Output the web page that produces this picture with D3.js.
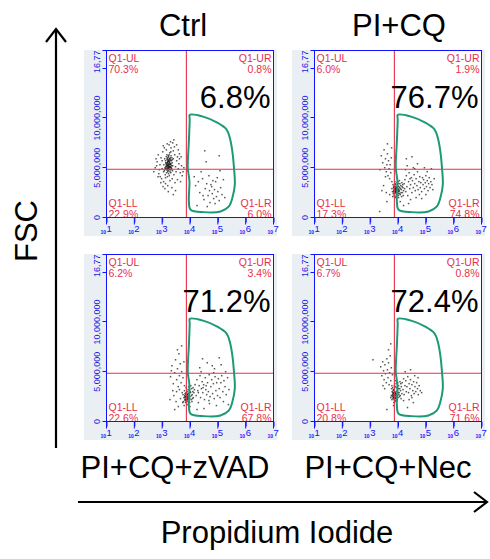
<!DOCTYPE html>
<html>
<head>
<meta charset="utf-8">
<script src="https://cdn.jsdelivr.net/npm/d3@7"></script>
<style>
  body { margin: 0; background: #fff; }
  svg text { font-family: "Liberation Sans", Arial, sans-serif; }
</style>
</head>
<body>
<div id="chart"></div>
<script>
// panel titles, top row then bottom row
const panelNames = ["Ctrl", "PI+CQ", "PI+CQ+zVAD", "PI+CQ+Nec"];
const gatePercent = ["6.8%", "76.7%", "71.2%", "72.4%"];

// quadrant stats per panel
const quadUL = ["70.3%", "6.0%", "6.2%", "6.7%"];
const quadUR = ["0.8%", "1.9%", "3.4%", "0.8%"];
const quadLL = ["22.9%", "17.3%", "22.6%", "20.8%"];
const quadLR = ["6.0%", "74.8%", "67.8%", "71.6%"];

// quadrant cut: log10(PI), FSC
const quadCutX = 3.87;
const quadCutY = 4850000;

// axes
const xExponents = [1, 2, 3, 4, 5, 6, 7];
const yTicks = [0, 5000000, 10000000, 15000000, 16777216];
const yTickLabels = ["0", "5,000,000", "10,000,000", "", "16,777,216"];

// gate outline: [log10 PI, FSC millions]
const gate = [
  [3.99, 10.31], [4.50, 10.11], [4.98, 9.53], [5.31, 8.86], [5.43, 8.01],
  [5.52, 6.67], [5.58, 4.98], [5.61, 3.30], [5.52, 1.95], [5.40, 1.11],
  [5.10, 0.61], [4.50, 0.54], [4.02, 0.78], [3.96, 1.62], [3.98, 3.64],
  [3.92, 4.98], [3.96, 7.68], [3.99, 9.87]
];

// events: [log10 PI, FSC millions]
const dotsCtrl = [
  [3.10,5.0],[3.14,5.4],[3.18,4.8],[3.22,5.6],[3.26,5.1],[3.30,5.8],[3.34,4.9],[3.20,6.0],[3.16,4.5],[3.28,4.6],
  [3.24,5.3],[3.12,5.7],[3.36,5.5],[3.32,6.2],[3.08,4.7],[3.19,5.2],[3.27,5.9],[3.23,4.4],[3.15,6.1],[3.38,5.2],
  [3.21,4.9],[3.29,5.4],[3.17,5.5],[3.11,4.3],[3.25,6.3],[3.33,5.0],[3.13,5.1],[3.31,4.5],[3.06,5.3],[3.40,5.9],
  [3.18,5.8],[3.26,4.2],[3.22,5.0],[3.35,6.0],[3.09,5.9],[3.28,5.1],[3.20,4.6],[3.14,4.9],[3.24,5.7],[3.30,5.3],
  [3.16,5.3],[3.37,4.7],[3.12,4.0],[3.27,6.5],[3.19,4.1],[3.33,5.7],[3.05,4.6],[3.23,6.1],[3.31,6.6],[3.21,5.4],
  [3.17,5.1],[3.19,5.5],[3.21,5.2],[3.23,5.8],[3.25,5.0],[3.27,5.5],[3.29,5.0],[3.22,4.7],[3.18,5.9],[3.26,5.6],
  [3.20,5.3],[3.24,4.9],[3.28,5.7],[3.16,4.8],[3.30,5.1],[3.21,5.7],[3.25,5.4],[3.19,4.9],[3.23,5.2],[3.27,4.8],
  [3.15,5.2],[3.29,6.0],[3.32,5.4],[3.18,5.0],[3.22,6.2],[3.26,5.9],[3.20,5.6],[3.24,5.1],[3.28,5.3],[3.13,5.5],
  [3.34,5.2],[3.17,6.3],[3.31,4.8],[3.11,4.9],[3.36,5.8],
  [2.75,5.0],[2.82,5.6],[2.88,4.4],[2.92,5.3],[2.96,6.0],[2.98,3.9],[3.02,6.6],[3.00,4.9],[2.90,4.8],[3.05,3.6],
  [3.08,7.0],[3.12,3.4],[3.15,6.8],[3.20,3.2],[3.25,7.3],[3.28,3.7],[3.32,7.0],[3.36,3.9],[3.40,6.7],[3.42,4.3],
  [3.45,6.3],[3.48,5.1],[3.50,4.6],[3.52,5.7],[3.55,6.1],[3.58,4.9],[3.60,5.4],[3.65,4.5],[3.70,5.2],[3.78,5.0],
  [3.62,6.4],[3.44,7.1],[3.38,7.5],[3.30,7.6],[3.18,7.4],[3.10,2.9],[3.22,2.6],[3.35,3.0],[3.46,3.5],[3.55,3.8],
  [3.03,3.1],[2.95,3.5],[2.85,4.1],[3.66,3.6],[3.72,4.2],[3.48,2.7],[3.58,6.8],[3.00,5.7],[2.80,5.2],[3.40,2.3],
  [2.70,4.6],[2.78,5.9],[2.86,6.3],[2.93,4.1],[3.04,7.2],[3.42,7.8],[3.52,7.3],[3.62,5.9],[3.68,6.1],[3.75,4.6],
  [4.20,3.2],[4.35,2.5],[4.45,3.9],[4.50,1.8],[4.55,2.9],[4.60,3.4],[4.65,2.2],[4.70,2.7],[4.72,1.5],[4.78,3.1],
  [4.80,2.4],[4.85,1.9],[4.88,2.8],[4.92,3.6],[4.95,2.1],[5.00,2.6],[5.05,1.7],[5.10,3.0],[5.15,2.3],[4.40,4.6],
  [4.58,5.6],[5.05,6.2],[4.25,1.2],[4.68,4.2],[4.98,4.0],[5.20,3.8],[4.30,3.6],[4.62,1.1],[4.82,3.7],[5.25,2.0],
  [4.47,2.2],[4.75,3.3],[4.90,1.4],[4.15,4.1],[5.08,4.7],[4.53,6.7]
];

const dotsCQ = [
  [3.80,2.6],[3.84,3.0],[3.88,2.4],[3.90,2.9],[3.92,3.3],[3.86,2.2],[3.94,2.7],[3.96,3.1],[3.98,2.5],[4.00,2.9],
  [4.02,3.4],[4.04,2.6],[4.06,3.0],[4.08,2.3],[4.10,3.2],[4.12,2.8],[4.14,3.5],[4.16,2.5],[4.18,3.0],[4.20,2.7],
  [3.82,3.3],[3.85,2.7],[3.89,3.6],[3.93,2.1],[3.97,3.5],[4.01,2.2],[4.05,3.7],[4.09,2.9],[4.13,2.1],[4.17,3.3],
  [3.78,2.9],[3.87,3.2],[3.91,2.6],[3.95,2.3],[3.99,3.2],[4.03,2.8],[4.07,3.4],[4.11,2.5],[4.15,3.1],[4.22,3.4],
  [3.83,2.4],[3.90,2.0],[3.94,3.0],[4.00,3.6],[4.06,2.4],[4.24,2.9],[3.81,2.1],[3.96,2.8],[4.02,2.0],[4.19,2.2],
  [3.86,2.8],[3.88,3.0],[3.90,2.5],[3.92,2.8],[3.94,2.5],[3.96,2.9],[3.89,2.7],[3.91,3.1],[3.93,2.6],[3.95,2.7],
  [3.98,2.8],[4.00,2.6],[3.87,2.5],[3.85,3.1],[3.97,2.4],[4.03,3.1],[3.92,2.9],[3.88,2.8],[3.99,2.7],[4.01,2.4],
  [3.84,2.6],[3.90,3.4],[3.94,2.2],[4.04,2.7],[3.86,3.0],
  [4.25,3.8],[4.28,2.6],[4.30,4.2],[4.32,3.1],[4.35,2.2],[4.38,3.6],[4.40,4.5],[4.42,2.9],[4.45,3.3],[4.48,4.0],
  [4.50,2.5],[4.52,3.7],[4.55,3.0],[4.58,4.3],[4.60,3.4],[4.62,2.7],[4.65,3.9],[4.68,3.2],[4.70,4.6],[4.72,2.8],
  [4.75,3.6],[4.78,4.1],[4.80,3.0],[4.82,3.5],[4.85,2.6],[4.88,4.0],[4.90,3.3],[4.92,3.8],[4.95,2.9],[4.98,3.5],
  [5.00,4.2],[5.02,3.1],[5.05,3.7],[5.08,2.7],[5.10,3.4],[5.12,4.0],[5.15,3.0],[5.18,3.6],[5.22,3.3],[5.25,2.8],
  [4.33,5.2],[4.55,5.0],[4.70,5.4],[4.95,5.0],[5.20,4.9],[4.45,1.8],[4.65,2.0],[4.85,1.9],[5.00,2.3],[4.38,1.4],
  [4.27,4.8],[4.60,4.9],[5.30,3.9],[4.43,3.9],[4.77,2.3],[5.05,4.6],[4.50,6.1],[4.30,5.9],[4.20,1.2],[4.08,1.6],
  [3.40,6.2],[3.45,5.5],[3.50,6.8],[3.52,5.0],[3.55,5.9],[3.58,4.6],[3.60,5.3],[3.62,6.4],[3.64,4.2],[3.66,5.7],
  [3.68,4.9],[3.70,3.9],[3.72,5.3],[3.74,4.5],[3.76,6.0],[3.78,3.6],[3.55,4.1],[3.48,3.2],[3.35,4.8],[3.42,2.7],
  [3.60,1.6],[3.70,2.3],[3.62,7.4],[3.77,7.0],[3.58,2.5],[3.34,0.6]
];

const dotsZVAD = [
  [3.78,2.4],[3.82,2.8],[3.85,2.2],[3.88,2.6],[3.90,3.0],[3.84,1.9],[3.92,2.3],[3.94,2.8],[3.96,2.1],[3.98,3.2],
  [4.00,2.5],[4.02,2.9],[4.04,2.2],[4.06,3.3],[4.08,2.7],[4.10,3.0],[4.12,2.4],[3.80,3.1],[3.86,3.4],[3.91,1.7],
  [3.95,3.5],[3.99,1.9],[4.03,3.6],[4.07,2.0],[4.11,3.4],[3.76,2.0],[3.83,2.5],[3.89,2.0],[3.93,3.2],[3.97,2.6],
  [4.01,3.0],[4.05,2.6],[4.09,2.3],[4.14,2.9],[3.87,2.9],[3.81,2.2],[3.75,2.7],[3.79,1.6],[4.16,3.2],[4.00,1.5],
  [3.84,2.5],[3.86,2.3],[3.88,2.8],[3.90,2.4],[3.92,2.7],[3.85,2.7],[3.87,2.1],[3.89,2.5],[3.91,2.2],[3.93,2.5],
  [3.82,2.4],[3.95,2.4],[3.86,2.9],[3.88,2.2],[3.97,2.9],[3.83,2.1],[3.90,2.7],[3.94,2.0],[3.81,2.6],[3.99,2.3],
  [4.18,3.7],[4.22,2.6],[4.25,4.2],[4.28,3.1],[4.30,1.9],[4.33,3.6],[4.36,4.6],[4.38,2.4],[4.41,3.3],[4.44,4.0],
  [4.46,2.9],[4.49,3.7],[4.52,2.2],[4.55,4.4],[4.57,3.2],[4.60,2.7],[4.63,3.9],[4.66,3.0],[4.69,4.7],[4.72,2.5],
  [4.75,3.5],[4.78,4.2],[4.81,2.8],[4.84,3.8],[4.87,2.3],[4.90,4.5],[4.93,3.1],[4.96,3.9],[4.99,2.6],[5.02,4.3],
  [5.05,3.3],[5.08,2.4],[5.11,3.9],[5.14,4.6],[5.18,3.0],[5.22,4.1],[5.26,3.5],[5.30,2.7],[5.35,4.4],[5.40,3.2],
  [4.35,5.4],[4.62,5.9],[4.88,5.3],[5.12,5.7],[5.28,5.0],[4.45,6.3],[5.05,6.4],[4.50,1.3],[4.70,1.8],[4.95,1.6],
  [5.20,2.0],[4.25,1.2],[4.40,5.0],[4.80,5.6],[5.38,1.7],[4.58,3.6],[4.68,2.1],[4.85,4.9],[4.30,2.9],[4.47,3.4],
  [3.30,4.5],[3.35,5.6],[3.40,3.8],[3.45,4.9],[3.48,6.2],[3.52,4.2],[3.55,5.3],[3.58,3.5],[3.60,6.8],[3.62,4.6],
  [3.65,5.8],[3.68,3.9],[3.70,5.0],[3.72,2.9],[3.75,4.4],[3.78,6.0],[3.80,3.6],[3.42,2.6],[3.50,2.0],[3.58,1.5],
  [3.66,2.3],[3.38,3.1],[3.28,2.2],[3.55,7.2],[3.70,7.6],[3.45,1.2],[3.62,3.2],[3.74,1.9],[3.33,5.1],[3.52,3.0]
];

const dotsNec = [
  [3.76,2.6],[3.79,3.0],[3.82,2.3],[3.84,2.8],[3.86,3.2],[3.88,2.5],[3.90,2.9],[3.92,2.1],[3.94,3.4],[3.96,2.7],
  [3.98,3.1],[4.00,2.4],[4.02,3.6],[4.04,2.9],[4.06,3.3],[4.08,2.6],[4.10,3.8],[3.78,2.2],[3.81,3.4],[3.85,1.9],
  [3.87,3.6],[3.91,2.4],[3.93,3.8],[3.97,2.2],[3.99,3.9],[4.03,2.7],[4.07,4.0],[4.09,3.1],[3.80,2.7],[3.83,3.1],
  [3.89,2.0],[3.95,3.0],[4.01,3.3],[4.05,2.5],[4.12,3.5],[3.77,3.3],[3.74,2.4],[3.84,1.6],[3.92,4.1],[4.14,2.8],
  [3.86,2.6],[3.90,3.5],[3.96,2.5],[4.00,2.9],[4.11,2.3],
  [3.82,2.6],[3.84,2.4],[3.85,2.9],[3.87,2.7],[3.88,2.3],[3.89,3.0],[3.83,2.8],[3.86,2.2],[3.90,2.6],[3.92,2.8],
  [3.81,2.9],[3.84,3.2],[3.87,2.5],[3.91,2.3],[3.93,2.7],[3.80,2.5],[3.88,2.8],[3.85,2.4],
  [4.15,3.9],[4.18,3.2],[4.20,4.3],[4.22,2.7],[4.25,3.6],[4.28,4.1],[4.30,3.0],[4.32,3.5],[4.35,4.5],[4.38,2.9],
  [4.40,3.8],[4.43,3.3],[4.45,4.2],[4.48,2.6],[4.50,3.7],[4.53,3.1],[4.56,4.0],[4.58,2.8],[4.61,3.5],[4.64,3.0],
  [4.67,3.9],[4.70,3.3],[4.73,2.7],[4.76,3.6],[4.80,3.1],[4.26,5.0],[4.45,5.2],[4.60,4.6],[4.20,2.1],[4.40,2.2],
  [4.55,1.9],[4.34,1.4],[4.72,4.4],[4.50,2.4],[4.85,2.9],
  [3.38,5.5],[3.42,4.6],[3.45,6.0],[3.48,5.1],[3.50,4.2],[3.53,5.7],[3.55,4.8],[3.58,3.9],[3.60,6.3],[3.62,5.2],
  [3.64,4.4],[3.66,5.9],[3.68,3.7],[3.70,4.9],[3.72,6.6],[3.74,4.1],[3.76,5.4],[3.78,3.6],[3.80,4.7],[3.52,3.3],
  [3.66,7.2],[3.74,7.8],[3.10,6.2],[3.60,1.2],[3.46,3.6]
];

const panelDots = [dotsCtrl, dotsCQ, dotsZVAD, dotsNec];

// layout
const W = 490, H = 559;
const colX = [106, 314];
const rowY = [50, 254];
const pw = 167, ph = 167;

const blue = "#1212ff";
const red = "#e6304d";
const green = "#1b9a76";
const stripGray = "#e9eff2";

const svg = d3.select("#chart").append("svg")
  .attr("width", W)
  .attr("height", H);

const x = d3.scaleLog().domain([10, 1e7]).range([0, pw]);
const y = d3.scaleLinear().domain([0, 16777216]).range([ph, 0]);

const gateLine = d3.line()
  .x(d => x(Math.pow(10, d[0])))
  .y(d => y(d[1] * 1e6))
  .curve(d3.curveCatmullRomClosed.alpha(0.5));

panelNames.forEach((name, i) => {
  const g = svg.append("g")
    .attr("transform", `translate(${colX[i % 2] + 0.5},${rowY[Math.floor(i / 2)] + 0.5})`);

  // gray strip behind the axes
  g.append("rect")
    .attr("x", -22.5).attr("y", -0.5)
    .attr("width", pw + 26).attr("height", ph + 19)
    .attr("fill", stripGray);
  g.append("rect")
    .attr("width", pw).attr("height", ph)
    .attr("fill", "#fff");

  const clipId = "clip" + i;
  g.append("clipPath").attr("id", clipId)
    .append("rect").attr("width", pw).attr("height", ph);

  const plot = g.append("g").attr("clip-path", `url(#${clipId})`);

  // events
  plot.selectAll(".dot")
    .data(panelDots[i])
    .enter().append("rect")
    .attr("class", "dot")
    .attr("x", d => x(Math.pow(10, d[0])) - 0.75)
    .attr("y", d => y(d[1] * 1e6) - 0.75)
    .attr("width", 1.5).attr("height", 1.5)
    .attr("fill", "#111")
    .attr("opacity", 0.7);

  // quadrant lines
  const qx = x(Math.pow(10, quadCutX));
  const qy = y(quadCutY);
  plot.append("line")
    .attr("x1", qx).attr("x2", qx)
    .attr("y1", 0).attr("y2", ph)
    .attr("stroke", red).attr("stroke-width", 1.1);
  plot.append("line")
    .attr("x1", 0).attr("x2", pw)
    .attr("y1", qy).attr("y2", qy)
    .attr("stroke", red).attr("stroke-width", 1.1);

  // gate
  plot.append("path")
    .datum(gate)
    .attr("d", gateLine)
    .attr("fill", "none")
    .attr("stroke", green)
    .attr("stroke-width", 2);

  // quadrant labels
  const qs = [
    { t: "Q1-UL", v: quadUL[i], x: 2, anchor: "start", y1: 11, y2: 22 },
    { t: "Q1-UR", v: quadUR[i], x: pw - 2, anchor: "end", y1: 11, y2: 22 },
    { t: "Q1-LL", v: quadLL[i], x: 2, anchor: "start", y1: ph - 11, y2: ph },
    { t: "Q1-LR", v: quadLR[i], x: pw - 2, anchor: "end", y1: ph - 11, y2: ph }
  ];
  qs.forEach(q => {
    g.append("text").attr("x", q.x).attr("y", q.y1)
      .attr("text-anchor", q.anchor).attr("font-size", 10.5)
      .attr("fill", red).text(q.t);
    g.append("text").attr("x", q.x).attr("y", q.y2)
      .attr("text-anchor", q.anchor).attr("font-size", 10.5)
      .attr("fill", red).text(q.v);
  });

  // gate percentage
  g.append("text")
    .attr("x", pw - 3).attr("y", 57)
    .attr("text-anchor", "end")
    .attr("font-size", 31)
    .attr("fill", "#000")
    .text(gatePercent[i]);

  // frame
  g.append("rect")
    .attr("width", pw).attr("height", ph)
    .attr("fill", "none").attr("stroke", blue).attr("stroke-width", 1);

  // x axis: minor + major ticks
  const xAxisG = g.append("g").attr("transform", `translate(0,${ph})`);
  xAxisG.call(d3.axisBottom(x).ticks(6).tickSize(5).tickFormat(""));
  xAxisG.select(".domain").remove();
  xAxisG.selectAll("line").attr("stroke", blue);
  xExponents.forEach(e => {
    const px = x(Math.pow(10, e));
    xAxisG.append("line").attr("x1", px).attr("x2", px)
      .attr("y1", 0).attr("y2", 7).attr("stroke", blue);
    xAxisG.append("text").attr("x", px - 0.5).attr("y", 16)
      .attr("text-anchor", "end").attr("font-size", 5)
      .attr("font-weight", "bold").attr("fill", blue).text("10");
    xAxisG.append("text").attr("x", px).attr("y", 14)
      .attr("text-anchor", "start").attr("font-size", 9.5)
      .attr("fill", blue).text(e);
  });

  // y axis
  const yClip = "yclip" + i;
  g.append("clipPath").attr("id", yClip)
    .append("rect").attr("x", -22.5).attr("y", -0.5).attr("width", 22).attr("height", ph + 19);
  const yAxisG = g.append("g").attr("clip-path", `url(#${yClip})`);
  yAxisG.selectAll(".ytick")
    .data(yTicks)
    .enter().append("line")
    .attr("x1", -4).attr("x2", 0)
    .attr("y1", d => Math.round(y(d))).attr("y2", d => Math.round(y(d)))
    .attr("stroke", blue);
  yAxisG.selectAll(".ylab")
    .data(yTicks)
    .enter().append("text")
    .attr("transform", d => `translate(-7,${y(d)}) rotate(-90)`)
    .attr("text-anchor", "middle")
    .attr("font-size", 9)
    .attr("fill", "#1c1ce6")
    .text((d, k) => yTickLabels[k]);
});

// column titles
svg.selectAll(".coltitle")
  .data(panelNames.slice(0, 2))
  .enter().append("text")
  .attr("x", (d, k) => [183, 399][k])
  .attr("y", 36)
  .attr("text-anchor", "middle")
  .attr("font-size", 31)
  .text(d => d);

svg.selectAll(".bottitle")
  .data(panelNames.slice(2))
  .enter().append("text")
  .attr("x", (d, k) => [175, 388][k])
  .attr("y", 478)
  .attr("text-anchor", "middle")
  .attr("font-size", 31)
  .text(d => d);

// outer axes arrows
svg.append("line").attr("x1", 56).attr("x2", 56).attr("y1", 448).attr("y2", 29)
  .attr("stroke", "#000").attr("stroke-width", 2.2);
svg.append("path").attr("d", "M46,42 L56,29 L66,42")
  .attr("fill", "none").attr("stroke", "#000").attr("stroke-width", 2.2);

svg.append("line").attr("x1", 78).attr("x2", 487).attr("y1", 502).attr("y2", 502)
  .attr("stroke", "#000").attr("stroke-width", 2.2);
svg.append("path").attr("d", "M474,492 L487,502 L474,512")
  .attr("fill", "none").attr("stroke", "#000").attr("stroke-width", 2.2);

svg.append("text")
  .attr("transform", "translate(37,231) rotate(-90)")
  .attr("text-anchor", "middle")
  .attr("font-size", 31)
  .text("FSC");

svg.append("text")
  .attr("x", 277).attr("y", 543)
  .attr("text-anchor", "middle")
  .attr("font-size", 31)
  .text("Propidium Iodide");
</script>
</body>
</html>
